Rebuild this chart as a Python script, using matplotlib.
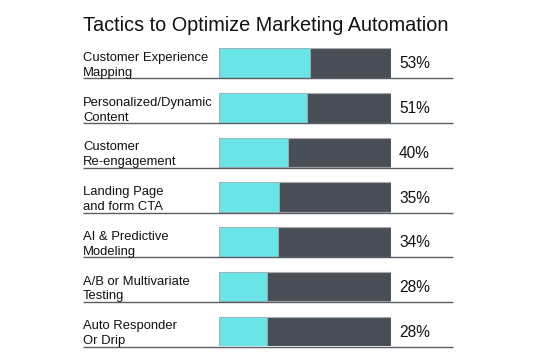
import matplotlib
matplotlib.use("Agg")
import matplotlib.pyplot as plt

categories = [
    "Customer Experience\nMapping",
    "Personalized/Dynamic\nContent",
    "Customer\nRe-engagement",
    "Landing Page\nand form CTA",
    "AI & Predictive\nModeling",
    "A/B or Multivariate\nTesting",
    "Auto Responder\nOr Drip",
]
values = [53, 51, 40, 35, 34, 28, 28]
value_labels = ["53%", "51%", "40%", "35%", "34%", "28%", "28%"]
title = "Tactics to Optimize Marketing Automation"

plt.rcParams['font.family'] = ['Liberation Sans', 'DejaVu Sans']

W, H = 536, 356
fig = plt.figure(figsize=(W / 100, H / 100), dpi=100)

x0_px, x1_px = 219.3, 390.7
top_px, bot_px = 48.3, 346.2
ax = fig.add_axes([x0_px / W, (H - bot_px) / H, (x1_px - x0_px) / W, (bot_px - top_px) / H])
bh = 0.66
ax.set_xlim(0, 100)
ax.set_ylim(len(values) - 1 + bh / 2, -bh / 2)
ax.axis('off')

cyan = "#6be4e8"
dark = "#4a4f57"
ypos = list(range(len(values)))
ax.barh(ypos, [100] * len(values), height=bh, color=dark, edgecolor="#a9adb2", linewidth=0.8, zorder=1)
ax.barh(ypos, values, height=bh, color=cyan, edgecolor="#9fb3b5", linewidth=0.6, zorder=2)

px_per_unit = (x1_px - x0_px) / 100.0
line_x0 = (83 - x0_px) / px_per_unit
line_x1 = (452.5 - x0_px) / px_per_unit
label_x = (83 - x0_px) / px_per_unit
pct_x = (399 - x0_px) / px_per_unit

for i, (cat, lab) in enumerate(zip(categories, value_labels)):
    ax.plot([line_x0, line_x1], [i + bh / 2 + 0.012] * 2, color="#5a5f66", lw=1.0, clip_on=False, zorder=3, solid_capstyle='butt')
    ax.text(label_x, i + 0.285, cat, ha='left', va='baseline', fontsize=9.4, color="#111111", linespacing=1.32, clip_on=False)
    ax.text(pct_x, i + 0.02, lab, ha='left', va='center', fontsize=11.2, color="#111111", clip_on=False)

fig.text(265.5 / W, 1 - 31 / H, title, ha='center', va='baseline', fontsize=14.3, color="#111111")

fig.savefig("out.png", dpi=100, facecolor="white")
